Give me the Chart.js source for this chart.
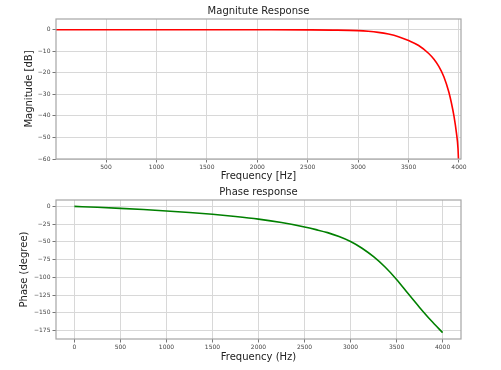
<!DOCTYPE html>
<html>
<head>
<meta charset="utf-8">
<script src="https://cdn.jsdelivr.net/npm/chart.js@4.4.0/dist/chart.umd.min.js"></script>
<style>
  html, body { margin: 0; padding: 0; background: #fff; overflow: hidden; }
  #magCanvas { position: absolute; left: 0; top: 0; }
  #phaseCanvas { position: absolute; left: 0; top: 185px; }
</style>
</head>
<body>
<canvas id="magCanvas" width="501" height="185"></canvas>
<canvas id="phaseCanvas" width="501" height="185"></canvas>
<script>
// values
var magFreq = [0, 500, 1000, 1500, 2000, 2500, 2750, 3000, 3100, 3200, 3300, 3400, 3500, 3600, 3700, 3750, 3800, 3850, 3900, 3925, 3950, 3975, 3990, 4000];
var magDb = [0, 0, 0, 0, -0.02, -0.06, -0.15, -0.4, -0.7, -1.2, -2.0, -3.2, -5.0, -7.3, -11, -13.6, -17, -21.8, -29, -34, -40, -48, -55, -66];

var phaseFreq = [0, 250, 500, 750, 1000, 1250, 1500, 1750, 2000, 2250, 2500, 2625, 2750, 2875, 3000, 3125, 3250, 3375, 3500, 3625, 3750, 3875, 4000];
var phaseDeg = [0, -1.3, -2.8, -4.5, -6.5, -8.7, -11.2, -14.3, -18, -22.8, -29, -32.8, -37, -42.5, -49.5, -59, -71, -85.5, -103, -123, -142.5, -161, -178];

var magXTicks = [500, 1000, 1500, 2000, 2500, 3000, 3500, 4000];
var magYTicks = [-60, -50, -40, -30, -20, -10, 0];
var phaseXTicks = [0, 500, 1000, 1500, 2000, 2500, 3000, 3500, 4000];
var phaseYTicks = [-175, -150, -125, -100, -75, -50, -25, 0];

Chart.defaults.font.family = "'DejaVu Sans', sans-serif";
Chart.defaults.color = '#333';

// box round the plot area, like matplotlib spines
var framePlugin = {
	id: 'frame',
	afterDatasetsDraw: function(chart) {
		var a = chart.chartArea;
		var ctx = chart.ctx;
		ctx.save();
		ctx.strokeStyle = '#a6a6a6';
		ctx.lineWidth = 1.2;
		ctx.strokeRect(a.left, a.top, a.right - a.left, a.bottom - a.top);
		ctx.restore();
	}
};

function points(xs, ys) {
	var out = [];
	for (var i in xs) {
		out.push({x: xs[i], y: ys[i]});
	}
	return out;
}

function fixTicks(list) {
	return function(scale) {
		scale.ticks = list.map(function(v) { return {value: v}; });
	};
}

// plain numbers, with a real minus sign
function tickText(v) {
	return String(v).replace('-', '\u2212');
}

function makeChart(id, opts) {
	var ctx = document.getElementById(id);
	return new Chart(ctx, {
		type: 'line',
		data: {
			datasets: [
				{
					data: points(opts.xs, opts.ys),
					borderColor: opts.color,
					borderWidth: 1.6,
					pointRadius: 0,
					fill: false,
					cubicInterpolationMode: 'monotone'
				}
			]
		},
		options: {
			responsive: false,
			animation: false,
			layout: { padding: { left: 0, right: 40, top: 0, bottom: 0 } },
			plugins: {
				legend: { display: false },
				tooltip: { enabled: false },
				title: {
					display: true,
					text: opts.title,
					fullSize: false,
					color: '#222',
					font: { size: 10, weight: 'normal' },
					padding: opts.titlePad
				}
			},
			scales: {
				x: {
					type: 'linear',
					min: opts.xMin,
					max: opts.xMax,
					afterBuildTicks: fixTicks(opts.xTicks),
					afterFit: function(s) { s.height = opts.xHeight; },
					border: { display: false },
					grid: { color: '#d8d8d8', tickColor: '#777', tickLength: 3.5 },
					ticks: { font: { size: 6 }, color: '#444', padding: 1, maxRotation: 0, autoSkip: false, callback: tickText },
					title: {
						display: true,
						text: opts.xLabel,
						color: '#222',
						font: { size: 10 },
						padding: { top: 0, bottom: opts.xTitleBottom }
					}
				},
				y: {
					type: 'linear',
					min: opts.yMin,
					max: opts.yMax,
					afterBuildTicks: fixTicks(opts.yTicks),
					afterFit: function(s) { s.width = 56; },
					border: { display: false },
					grid: { color: '#d8d8d8', tickColor: '#777', tickLength: 3.5 },
					ticks: { font: { size: 6 }, color: '#444', padding: 2, callback: tickText },
					title: {
						display: true,
						text: opts.yLabel,
						color: '#222',
						font: { size: 10 },
						padding: { top: opts.yTitleTop, bottom: 0 }
					}
				}
			}
		},
		plugins: [framePlugin]
	});
}

makeChart('magCanvas', {
	xs: magFreq, ys: magDb, color: '#ff0000',
	title: 'Magnitute Response', titlePad: { top: 5, bottom: 2 },
	xMin: 4, xMax: 4020, xTicks: magXTicks, xHeight: 26, xLabel: 'Frequency [Hz]', xTitleBottom: 3,
	yMin: -60, yMax: 5, yTicks: magYTicks, yLabel: 'Magnitude [dB]', yTitleTop: 23
});

makeChart('phaseCanvas', {
	xs: phaseFreq, ys: phaseDeg, color: '#008000',
	title: 'Phase response', titlePad: { top: 1, bottom: 2 },
	xMin: -200, xMax: 4200, xTicks: phaseXTicks, xHeight: 31, xLabel: 'Frequency (Hz)', xTitleBottom: 6.5,
	yMin: -187, yMax: 9, yTicks: phaseYTicks, yLabel: 'Phase (degree)', yTitleTop: 18
});
</script>
</body>
</html>
